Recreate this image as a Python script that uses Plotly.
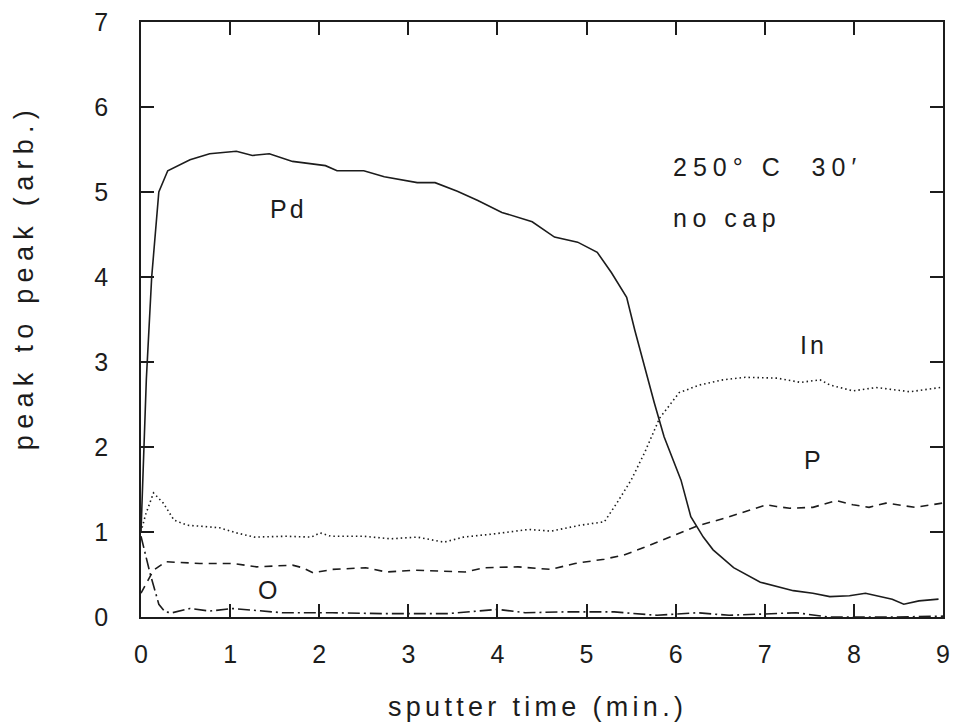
import plotly.graph_objects as go

# ---- data ----
pd_time = [0.0, 0.03, 0.06, 0.12, 0.2, 0.3, 0.4, 0.55, 0.77, 1.07, 1.25, 1.44, 1.7, 2.07, 2.2, 2.5,
           2.73, 3.1, 3.3, 3.55, 3.78, 4.05, 4.39, 4.64, 4.9, 5.12, 5.28, 5.45, 5.54, 5.65, 5.76,
           5.87, 6.06, 6.17, 6.31, 6.42, 6.65, 6.95, 7.32, 7.54, 7.73, 7.95, 8.13, 8.43, 8.56, 8.73, 8.95]
pd_vals = [1.0, 2.0, 2.8, 4.0, 5.0, 5.25, 5.3, 5.38, 5.45, 5.48, 5.43, 5.45, 5.36, 5.31, 5.25, 5.25,
           5.18, 5.11, 5.11, 5.01, 4.9, 4.76, 4.65, 4.47, 4.41, 4.29, 4.05, 3.76, 3.38, 2.94, 2.52,
           2.12, 1.61, 1.18, 0.94, 0.79, 0.58, 0.41, 0.31, 0.28, 0.24, 0.25, 0.28, 0.21, 0.15, 0.19, 0.21]

in_time = [0.0, 0.05, 0.14, 0.25, 0.37, 0.52, 0.88, 1.07, 1.27, 1.62, 1.91, 2.01, 2.13, 2.5, 2.8,
           3.1, 3.4, 3.62, 3.98, 4.35, 4.6, 4.93, 5.2, 5.34, 5.5, 5.65, 5.82, 6.04, 6.27, 6.53,
           6.78, 7.14, 7.4, 7.62, 7.73, 7.99, 8.25, 8.63, 8.97]
in_vals = [1.0, 1.2, 1.46, 1.34, 1.14, 1.08, 1.05, 0.99, 0.94, 0.95, 0.94, 0.99, 0.95, 0.95, 0.92,
           0.94, 0.88, 0.94, 0.98, 1.03, 1.01, 1.08, 1.12, 1.34, 1.61, 1.93, 2.34, 2.64, 2.73, 2.79,
           2.82, 2.81, 2.76, 2.79, 2.73, 2.66, 2.70, 2.65, 2.70]

p_time = [0.0, 0.14, 0.28, 0.66, 1.03, 1.3, 1.7, 1.81, 1.93, 2.15, 2.52, 2.75, 3.08, 3.64, 3.86,
          4.23, 4.6, 4.87, 5.2, 5.42, 5.65, 5.98, 6.24, 6.54, 6.83, 7.02, 7.13, 7.28, 7.54, 7.8,
          7.99, 8.17, 8.36, 8.69, 8.99]
p_vals = [0.28, 0.55, 0.65, 0.63, 0.63, 0.59, 0.61, 0.58, 0.52, 0.56, 0.58, 0.53, 0.55, 0.53, 0.58,
          0.59, 0.56, 0.63, 0.68, 0.73, 0.82, 0.96, 1.07, 1.16, 1.26, 1.32, 1.30, 1.28, 1.29, 1.37,
          1.32, 1.29, 1.34, 1.29, 1.34]

o_time = [0.0, 0.1, 0.2, 0.27, 0.35, 0.55, 0.77, 1.03, 1.59, 2.15, 2.7, 3.45, 4.0, 4.31, 4.75,
          5.31, 5.79, 6.24, 6.6, 7.35, 7.72, 8.47, 9.0]
o_vals = [0.95, 0.52, 0.15, 0.06, 0.05, 0.10, 0.07, 0.10, 0.05, 0.05, 0.04, 0.04, 0.09, 0.05, 0.06,
          0.06, 0.02, 0.05, 0.02, 0.05, 0.0, 0.0, 0.01]

x_ticks = [0, 1, 2, 3, 4, 5, 6, 7, 8, 9]
y_ticks = [0, 1, 2, 3, 4, 5, 6, 7]

series_labels = ["Pd", "In", "P", "O"]
label_x = [1.65, 7.55, 7.55, 1.44]
label_y = [4.80, 3.20, 1.85, 0.32]

x_title = "sputter time (min.)"
y_title = "peak to peak (arb.)"
note_lines = ["250° C\u00a0 30′", "no cap"]

INK = "#1c1c1c"
FONT = "Liberation Sans, Arial, Helvetica, sans-serif"


def spaced(text, px):
    return f'<span style="letter-spacing:{px}px">{text}</span>'


fig = go.Figure()
fig.add_trace(go.Scatter(x=pd_time, y=pd_vals, mode="lines", name="Pd",
                         line=dict(color=INK, width=1.6, dash="solid")))
fig.add_trace(go.Scatter(x=in_time, y=in_vals, mode="lines", name="In",
                         line=dict(color=INK, width=1.6, dash="1.5px,3px")))
fig.add_trace(go.Scatter(x=p_time, y=p_vals, mode="lines", name="P",
                         line=dict(color=INK, width=1.6, dash="8px,6px")))
fig.add_trace(go.Scatter(x=o_time, y=o_vals, mode="lines", name="O",
                         line=dict(color=INK, width=1.6, dash="12px,4px,2px,4px")))

annotations = []
for t, xx, yy in zip(series_labels, label_x, label_y):
    annotations.append(dict(x=xx, y=yy, xref="x", yref="y", text=spaced(t, 3), showarrow=False,
                            font=dict(family=FONT, size=25, color=INK),
                            xanchor="center", yanchor="middle"))

annotations.append(dict(x=5.95, y=5.29, xref="x", yref="y", text=spaced(note_lines[0], 6),
                        showarrow=False, font=dict(family=FONT, size=25, color=INK),
                        xanchor="left", yanchor="middle"))
annotations.append(dict(x=5.95, y=4.69, xref="x", yref="y", text=spaced(note_lines[1], 5.5),
                        showarrow=False, font=dict(family=FONT, size=25, color=INK),
                        xanchor="left", yanchor="middle"))

annotations.append(dict(x=0.495, y=-0.151, xref="paper", yref="paper", text=spaced(x_title, 4.3),
                        showarrow=False, font=dict(family=FONT, size=27, color=INK),
                        xanchor="center", yanchor="middle"))
annotations.append(dict(x=-0.146, y=0.571, xref="paper", yref="paper", text=spaced(y_title, 6.3),
                        showarrow=False, textangle=-90, font=dict(family=FONT, size=27, color=INK),
                        xanchor="center", yanchor="middle"))

axis_common = dict(showgrid=False, zeroline=False, showline=True, linecolor=INK, linewidth=1.8,
                   mirror="ticks", ticks="inside", ticklen=13, tickwidth=1.6, tickcolor=INK,
                   tickfont=dict(family=FONT, size=25, color=INK))

fig.update_layout(
    width=956, height=723,
    margin=dict(l=141, r=6, t=22, b=106),
    paper_bgcolor="white", plot_bgcolor="white",
    showlegend=False,
    annotations=annotations,
    xaxis=dict(range=[0, 9], tickmode="array", tickvals=x_ticks,
               ticktext=[str(v) for v in x_ticks], ticklabelstandoff=14, **axis_common),
    yaxis=dict(range=[0, 7], tickmode="array", tickvals=y_ticks,
               ticktext=[str(v) for v in y_ticks], ticklabelstandoff=26, **axis_common),
)

fig.write_html("out.html")
